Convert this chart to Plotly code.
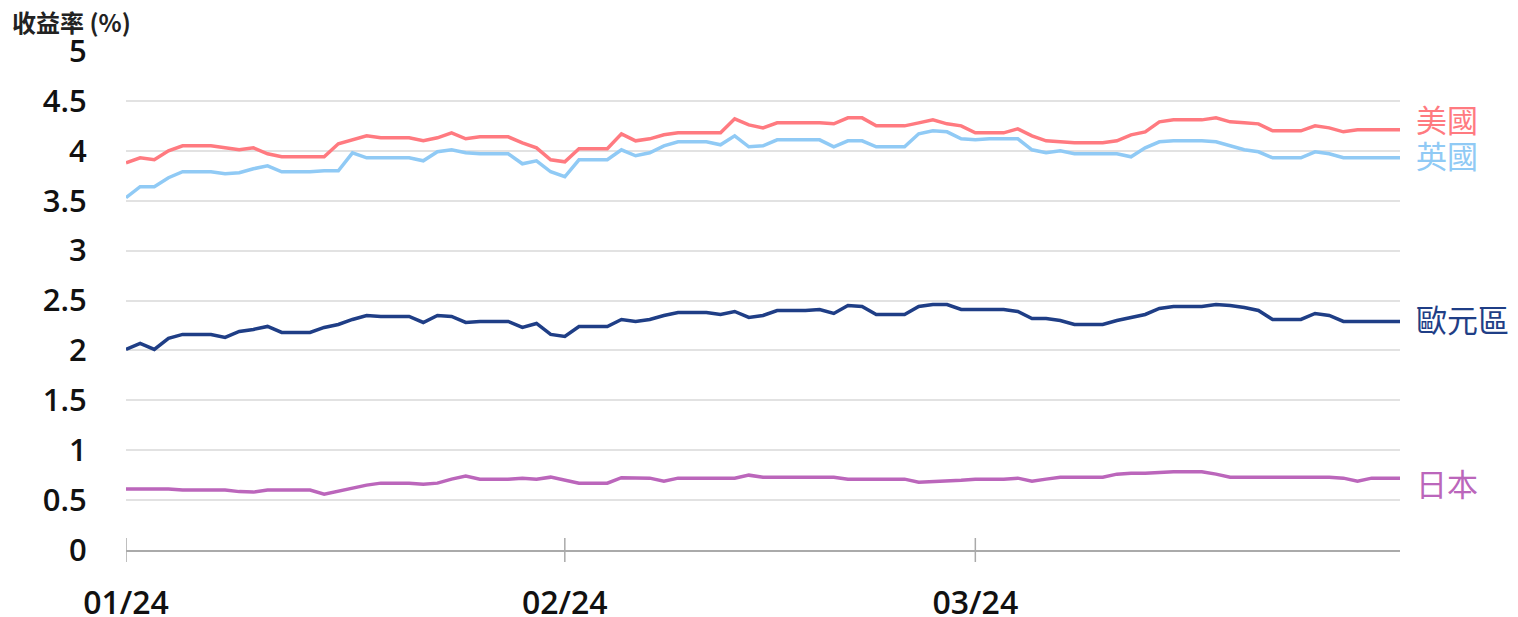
import pandas as pd
import plotly.graph_objects as go

dates = pd.date_range("2024-01-01", "2024-03-31", freq="D")

us = [3.88, 3.93, 3.91, 4.00, 4.05, 4.05, 4.05, 4.03, 4.01, 4.03,
      3.97, 3.94, 3.94, 3.94, 3.94, 4.07, 4.11, 4.15, 4.13, 4.13,
      4.13, 4.10, 4.13, 4.18, 4.12, 4.14, 4.14, 4.14, 4.08, 4.03,
      3.91, 3.89, 4.02, 4.02, 4.02, 4.17, 4.10, 4.12, 4.16, 4.18,
      4.18, 4.18, 4.18, 4.32, 4.26, 4.23, 4.28, 4.28, 4.28, 4.28,
      4.27, 4.33, 4.33, 4.25, 4.25, 4.25, 4.28, 4.31, 4.27, 4.25,
      4.18, 4.18, 4.18, 4.22, 4.15, 4.10, 4.09, 4.08, 4.08, 4.08,
      4.10, 4.16, 4.19, 4.29, 4.31, 4.31, 4.31, 4.33, 4.29, 4.28,
      4.27, 4.20, 4.20, 4.20, 4.25, 4.23, 4.19, 4.21, 4.21, 4.21,
      4.21]

uk = [3.53, 3.64, 3.64, 3.73, 3.79, 3.79, 3.79, 3.77, 3.78, 3.82,
      3.85, 3.79, 3.79, 3.79, 3.80, 3.80, 3.98, 3.93, 3.93, 3.93,
      3.93, 3.90, 3.99, 4.01, 3.98, 3.97, 3.97, 3.97, 3.87, 3.90,
      3.79, 3.74, 3.91, 3.91, 3.91, 4.01, 3.95, 3.98, 4.05, 4.09,
      4.09, 4.09, 4.06, 4.15, 4.04, 4.05, 4.11, 4.11, 4.11, 4.11,
      4.04, 4.10, 4.10, 4.04, 4.04, 4.04, 4.17, 4.20, 4.19, 4.12,
      4.11, 4.12, 4.12, 4.12, 4.01, 3.98, 4.00, 3.97, 3.97, 3.97,
      3.97, 3.94, 4.03, 4.09, 4.10, 4.10, 4.10, 4.09, 4.05, 4.01,
      3.99, 3.93, 3.93, 3.93, 3.99, 3.97, 3.93, 3.93, 3.93, 3.93,
      3.93]

euro = [2.01, 2.07, 2.01, 2.12, 2.16, 2.16, 2.16, 2.13, 2.19, 2.21,
        2.24, 2.18, 2.18, 2.18, 2.23, 2.26, 2.31, 2.35, 2.34, 2.34,
        2.34, 2.28, 2.35, 2.34, 2.28, 2.29, 2.29, 2.29, 2.23, 2.27,
        2.16, 2.14, 2.24, 2.24, 2.24, 2.31, 2.29, 2.31, 2.35, 2.38,
        2.38, 2.38, 2.36, 2.39, 2.33, 2.35, 2.40, 2.40, 2.40, 2.41,
        2.37, 2.45, 2.44, 2.36, 2.36, 2.36, 2.44, 2.46, 2.46, 2.41,
        2.41, 2.41, 2.41, 2.39, 2.32, 2.32, 2.30, 2.26, 2.26, 2.26,
        2.30, 2.33, 2.36, 2.42, 2.44, 2.44, 2.44, 2.46, 2.45, 2.43,
        2.40, 2.31, 2.31, 2.31, 2.37, 2.35, 2.29, 2.29, 2.29, 2.29,
        2.29]

japan = [0.61, 0.61, 0.61, 0.61, 0.60, 0.60, 0.60, 0.60, 0.585, 0.58,
         0.60, 0.60, 0.60, 0.60, 0.56, 0.59, 0.62, 0.65, 0.67, 0.67,
         0.67, 0.66, 0.67, 0.71, 0.74, 0.71, 0.71, 0.71, 0.72, 0.71,
         0.73, 0.70, 0.67, 0.67, 0.67, 0.725, 0.72, 0.72, 0.69, 0.72,
         0.72, 0.72, 0.72, 0.72, 0.75, 0.73, 0.73, 0.73, 0.73, 0.73,
         0.73, 0.71, 0.71, 0.71, 0.71, 0.71, 0.68, 0.685, 0.69, 0.70,
         0.71, 0.71, 0.71, 0.72, 0.69, 0.71, 0.73, 0.73, 0.73, 0.73,
         0.76, 0.77, 0.77, 0.78, 0.785, 0.785, 0.785, 0.76, 0.73, 0.73,
         0.73, 0.73, 0.73, 0.73, 0.73, 0.73, 0.72, 0.69, 0.72, 0.72,
         0.72]

series_names = ["美國", "英國", "歐元區", "日本"]
series_colors = ["#ff7a80", "#90caf5", "#1f3e86", "#bb66bb"]
label_shift = [11, 3, 3, -4]

tick_dates = ["2024-01-01", "2024-02-01", "2024-03-01"]
tick_labels = ["01/24", "02/24", "03/24"]
y_ticks = [0, 0.5, 1, 1.5, 2, 2.5, 3, 3.5, 4, 4.5, 5]
y_tick_labels = ["0", "0.5", "1", "1.5", "2", "2.5", "3", "3.5", "4", "4.5", "5"]

fig = go.Figure()
all_series = [us, uk, euro, japan]
for name, vals, col in zip(series_names, all_series, series_colors):
    fig.add_trace(go.Scatter(x=dates, y=vals, mode="lines", name=name,
                             line=dict(color=col, width=3.5), showlegend=False))

for name, vals, col, sh in zip(series_names, all_series, series_colors, label_shift):
    fig.add_annotation(x=dates[-1], y=vals[-1], text=name, showarrow=False,
                       xanchor="left", yanchor="middle", xshift=14, yshift=sh,
                       font=dict(family="Noto Sans CJK TC", size=31, color=col))

for td in tick_dates:
    fig.add_shape(type="line", xref="x", yref="paper", x0=td, x1=td,
                  y0=-0.024, y1=0.024, line=dict(color="#aaaaaa", width=1.5))

fig.add_annotation(x=0, xref="paper", xanchor="left", xshift=-116,
                   y=1, yref="paper", yanchor="middle", yshift=30,
                   text="<b>收益率 (%)</b>", showarrow=False,
                   font=dict(family="Noto Sans CJK TC", size=24, color="#222222"))

fig.update_layout(
    width=1510, height=609,
    margin=dict(l=118, r=118, t=43, b=67),
    plot_bgcolor="white", paper_bgcolor="white",
    xaxis=dict(type="date", range=[dates[0], dates[-1]],
               tickvals=tick_dates, ticktext=tick_labels,
               showgrid=False, showline=True, linecolor="#aaaaaa", linewidth=2,
               ticks="outside", ticklen=24, tickcolor="rgba(0,0,0,0)", automargin=False,
               tickfont=dict(family="Open Sans", size=32, color="#111111", weight=600)),
    yaxis=dict(range=[0, 5], tickvals=y_ticks, ticktext=y_tick_labels,
               showgrid=True, gridcolor="#e2e2e2", gridwidth=1.5,
               zeroline=False, ticks="outside", ticklen=32, tickcolor="rgba(0,0,0,0)",
               automargin=False,
               tickfont=dict(family="Open Sans", size=31, color="#111111", weight=600)),
)

fig.write_html("out.html")
